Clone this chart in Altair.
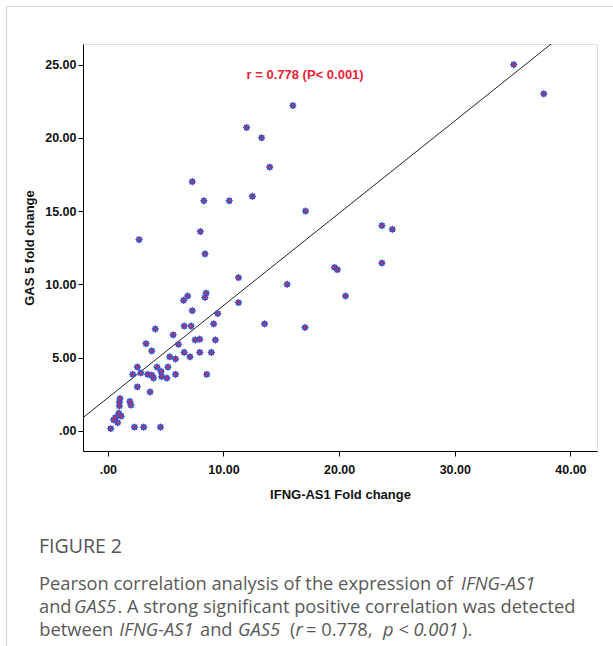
import math
import altair as alt
import pandas as pd

# ---- data ----
ifng = [35.1, 37.7, 16.0, 12.0, 13.3, 14.0, 7.3, 12.5, 8.3, 10.5, 17.1, 23.7, 24.6,
        8.0, 2.7, 8.4, 23.7, 19.6, 19.85, 11.3, 15.5, 8.4, 8.5, 20.55, 6.55, 6.9,
        11.3, 7.3, 9.5, 9.15, 13.55, 17.05, 6.6, 7.2, 4.1, 5.65, 9.3, 7.55, 7.95,
        3.3, 6.1, 3.8, 6.6, 7.95, 8.95, 5.35, 7.1, 5.85, 2.55, 4.25, 5.2, 2.15, 2.85,
        3.45, 3.8, 3.95, 4.6, 4.65, 5.1, 5.85, 8.55, 2.55, 3.65, 1.05, 1.0, 1.0, 1.9,
        2.0, 0.95, 1.15, 0.65, 0.5, 0.85, 0.25, 2.3, 3.1, 4.55]
gas5 = [25.0, 23.0, 22.2, 20.7, 20.0, 18.0, 17.0, 16.0, 15.7, 15.7, 15.0, 14.0, 13.75,
        13.6, 13.05, 12.07, 11.45, 11.15, 11.0, 10.45, 10.0, 9.1, 9.4, 9.2, 8.9, 9.2,
        8.75, 8.2, 8.0, 7.3, 7.3, 7.05, 7.15, 7.15, 6.95, 6.55, 6.2, 6.2, 6.25,
        5.95, 5.9, 5.45, 5.35, 5.35, 5.35, 5.05, 5.05, 4.9, 4.35, 4.35, 4.35, 3.85, 3.95,
        3.85, 3.8, 3.6, 4.05, 3.7, 3.6, 3.85, 3.85, 3.0, 2.65, 2.2, 1.95, 1.7, 2.0,
        1.75, 1.2, 1.0, 0.9, 0.75, 0.55, 0.15, 0.25, 0.25, 0.25]
fit_slope = 0.63
fit_intercept = 2.25
x_domain = [-2.15, 42.3]
y_domain = [-1.38, 26.4]
x_ticks = [0, 10, 20, 30, 40]
y_ticks = [0, 5, 10, 15, 20, 25]
annot_text = ["r = 0.778 (P< 0.001)"]
annot_x = [17.06]
annot_y = [24.3]

# caption segments
cap_text = ["FIGURE 2",
            "Pearson correlation analysis of the expression of", "IFNG-AS1",
            "and", "GAS5", ". A strong significant positive correlation was detected",
            "between", "IFNG-AS1", "and", "GAS5", "(", "r", "= 0.778,", "p < 0.001", ")."]
cap_italic = [False, False, True, False, True, False, False, True, False, True, False,
              True, False, True, False]
cap_line = [0, 1, 1, 2, 2, 2, 3, 3, 3, 3, 3, 3, 3, 3, 3]
cap_x = [-44, -44, 378, -44, -9, 34.5, -43.7, 36.3, 117, 155, 207, 212.5, 223, 300, 379]

W, H = 514, 407
PL, PT = 83, 44

pts = pd.DataFrame({"x": ifng, "y": gas5})
line_df = pd.DataFrame({"x": x_domain,
                        "y": [fit_intercept + fit_slope * v for v in x_domain]})
annot = pd.DataFrame({"x": annot_x, "y": annot_y, "t": annot_text})
line_base = [509, 545.5, 568.5, 591.5]
cap = pd.DataFrame({"t": cap_text, "it": cap_italic,
                    "px": cap_x, "py": [line_base[i] for i in cap_line],
                    "big": [i == 0 for i in cap_line]})

# 16-point star marker
pp = []
for i in range(16):
    a = i * math.pi / 8 - math.pi / 2
    r = 1.0 if i % 2 == 0 else 0.72
    pp.append(f"{r*math.cos(a):.3f},{r*math.sin(a):.3f}")
star = "M" + " L".join(pp) + " Z"

xs = alt.Scale(domain=x_domain, nice=False, zero=False)
ys = alt.Scale(domain=y_domain, nice=False, zero=False)
label_expr = "datum.value == 0 ? '.00' : format(datum.value, '.2f')"

common_axis = dict(labelExpr=label_expr, grid=False, tickSize=5, tickColor="#000",
                   domainColor="#000", labelFont="Liberation Sans", labelFontSize=12.5,
                   labelFontWeight="bold", labelColor="#111", titleFont="Liberation Sans",
                   titleFontSize=13, titleFontWeight="bold", titleColor="#111")

points = alt.Chart(pts).mark_point(shape=star, filled=True, color="#3f51c6",
                                   size=62, opacity=1).encode(
    x=alt.X("x:Q", scale=xs, axis=alt.Axis(values=x_ticks, title="IFNG-AS1 Fold change",
                                            labelPadding=7, titlePadding=13, **common_axis)),
    y=alt.Y("y:Q", scale=ys, axis=alt.Axis(values=y_ticks, title="GAS 5 fold change",
                                            labelPadding=2, titlePadding=8, **common_axis)),
)
centers = alt.Chart(pts).mark_circle(color="#e8243f", size=6, opacity=1).encode(
    x=alt.X("x:Q", scale=xs), y=alt.Y("y:Q", scale=ys))
fit = alt.Chart(line_df).mark_line(color="#222", strokeWidth=1, clip=True).encode(
    x=alt.X("x:Q", scale=xs), y=alt.Y("y:Q", scale=ys))
note = alt.Chart(annot).mark_text(color="#ee2233", font="Liberation Sans", fontSize=13,
                                  fontWeight="bold", align="center", baseline="middle").encode(
    x=alt.X("x:Q", scale=xs), y=alt.Y("y:Q", scale=ys), text="t:N")

CAP_FS = 18.3
cap_norm = alt.Chart(cap).transform_filter("!datum.it && !datum.big").mark_text(
    font="Open Sans", fontSize=CAP_FS, color="#595959", align="left", baseline="alphabetic").encode(
    x=alt.X("px:Q", scale=None), y=alt.Y("py:Q", scale=None), text="t:N")
cap_it = alt.Chart(cap).transform_filter("datum.it").mark_text(
    font="Open Sans", fontSize=CAP_FS, fontStyle="italic", color="#595959", align="left",
    baseline="alphabetic").encode(
    x=alt.X("px:Q", scale=None), y=alt.Y("py:Q", scale=None), text="t:N")
cap_big = alt.Chart(cap).transform_filter("datum.big").mark_text(
    font="Open Sans", fontSize=19.5, color="#555555", align="left", baseline="alphabetic").encode(
    x=alt.X("px:Q", scale=None), y=alt.Y("py:Q", scale=None), text="t:N")

border_left = alt.Chart(pd.DataFrame({"a": [0]})).mark_rule(color="#d4d4d4", strokeWidth=1.2).encode(
    x=alt.value(6.5 - PL), y=alt.value(6.5 - PT), y2=alt.value(646 - PT + 5))
border_top = alt.Chart(pd.DataFrame({"a": [0]})).mark_rule(color="#d4d4d4", strokeWidth=1.2).encode(
    y=alt.value(6.5 - PT), x=alt.value(6.5 - PL), x2=alt.value(613 - PL + 5))

chart = alt.layer(border_left, border_top, fit, points, centers, note,
                  cap_big, cap_norm, cap_it).properties(
    width=W, height=H,
    autosize=alt.AutoSizeParams(type="none"),
    padding={"left": PL, "top": PT, "right": 613 - PL - W, "bottom": 646 - PT - H},
).configure_view(stroke="#222", strokeWidth=1.2).configure(background="white")

chart.save("out.html", embed_options={"renderer": "svg", "actions": False})
